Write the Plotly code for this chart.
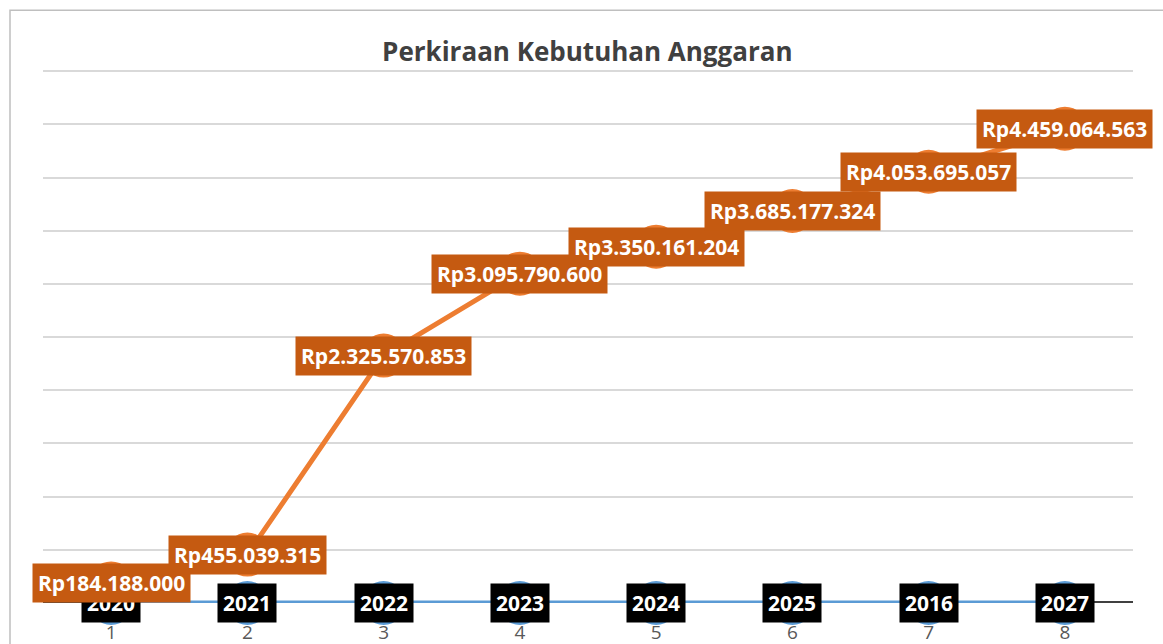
import plotly.graph_objects as go

categories = [1, 2, 3, 4, 5, 6, 7, 8]
year_values = [2020, 2021, 2022, 2023, 2024, 2025, 2016, 2027]
budget_values = [184188000, 455039315, 2325570853, 3095790600, 3350161204, 3685177324, 4053695057, 4459064563]
title_text = "Perkiraan Kebutuhan Anggaran"


def rupiah(v):
    return "Rp" + f"{v:,}".replace(",", ".")


fig = go.Figure()
fig.add_trace(go.Scatter(
    x=categories, y=year_values, mode="lines+markers",
    line=dict(color="#5B9BD5", width=5),
    marker=dict(size=44, color="#5B9BD5"),
    cliponaxis=False, hoverinfo="skip", showlegend=False))
fig.add_trace(go.Scatter(
    x=categories, y=budget_values, mode="lines+markers",
    line=dict(color="#ED7D31", width=5),
    marker=dict(size=44, color="#ED7D31"),
    cliponaxis=False, hoverinfo="skip", showlegend=False))

label_font = dict(family="Open Sans", size=21, color="white", weight="bold")
annotations = []
for c, v in zip(categories, year_values):
    annotations.append(dict(
        x=c, y=v, xref="x", yref="y", text=str(v), showarrow=False,
        font=label_font, bgcolor="#000000", borderpad=5,
        xanchor="center", yanchor="middle"))
for c, v in zip(categories, budget_values):
    annotations.append(dict(
        x=c, y=v, xref="x", yref="y", text=rupiah(v), showarrow=False,
        font=label_font, bgcolor="#C55A11", borderpad=5,
        xanchor="center", yanchor="middle"))

ymax = 5.02e9
plot_h = 532 * ymax / 5e9
fig.update_layout(
    width=1163, height=644,
    margin=dict(l=43, r=30, t=644 - 41 - plot_h, b=41),
    paper_bgcolor="white", plot_bgcolor="white",
    title=dict(text=title_text, x=0.505, xanchor="center",
               y=1 - 52 / 644, yanchor="middle", yref="container",
               font=dict(family="Open Sans", size=26, color="#404040", weight="bold")),
    annotations=annotations,
    shapes=[dict(type="rect", xref="paper", yref="paper",
                 x0=(10 - 43) / 1090, x1=1.3, y0=-0.3, y1=(603 - 10) / plot_h,
                 line=dict(color="#BFBFBF", width=1.5), fillcolor="rgba(0,0,0,0)",
                 layer="below"),
            dict(type="line", xref="paper", yref="y", x0=0, x1=1, y0=0, y1=0,
                 line=dict(color="#404040", width=4), layer="below")],
)
fig.update_xaxes(range=[0.5, 8.5], tickvals=categories, ticktext=[str(c) for c in categories],
                 showgrid=False, zeroline=False, showline=False,
                 ticks="", ticklabelstandoff=16, automargin=False,
                 tickfont=dict(family="Open Sans", size=19, color="#595959"),
                 fixedrange=True)
fig.update_yaxes(range=[0, ymax], dtick=5e8, showgrid=True, gridcolor="#D9D9D9", gridwidth=1.5,
                 showticklabels=False, zeroline=False, showline=False, fixedrange=True,
                 automargin=False)

fig.write_html("out.html", config={"displayModeBar": False},
               post_script="document.body.style.margin='0px';")
